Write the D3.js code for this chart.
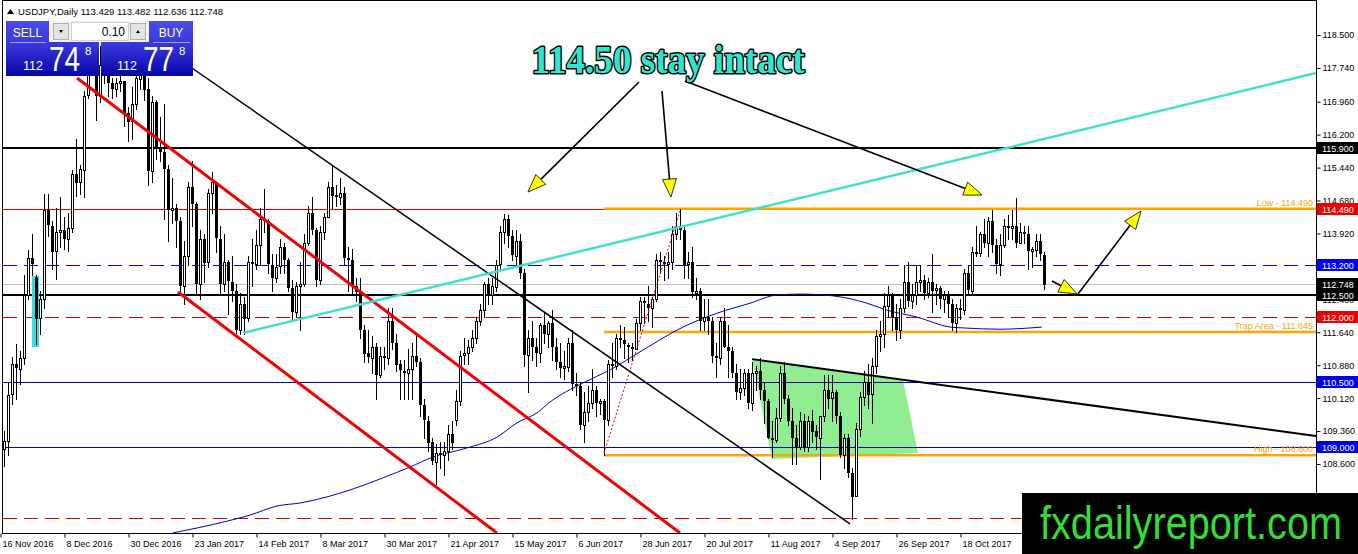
<!DOCTYPE html>
<html><head><meta charset="utf-8">
<script src="https://cdn.jsdelivr.net/npm/d3@7/dist/d3.min.js"></script>
<style>
html,body{margin:0;padding:0;background:#fff;overflow:hidden}
svg{display:block}
</style></head><body>
<svg id="c" width="1358" height="554"></svg>
<script>
// ---------- DATA (USDJPY daily, one bar per weekday from 16 Nov 2016) ----------
const open = [108.95,109.13,110.20,110.90,110.80,111.05,112.50,113.35,112.90,111.95,112.40,114.45,114.10,113.50,113.95,114.00,113.80,114.05,115.30,115.10,115.40,117.10,118.10,117.90,117.10,117.80,117.60,117.40,117.25,117.40,117.45,116.70,116.50,116.90,117.50,117.75,117.25,115.35,116.95,115.90,115.80,115.40,114.45,114.50,114.20,112.70,113.40,115.00,114.60,112.75,113.80,113.25,114.85,115.10,113.80,112.75,113.25,112.80,112.60,111.70,112.30,111.95,113.25,113.20,113.65,114.25,114.20,113.20,112.90,113.15,113.60,113.30,112.65,112.10,112.70,112.75,113.70,114.40,114.00,112.85,113.95,114.30,115.00,114.80,114.75,114.85,113.35,113.30,112.70,112.55,111.70,111.15,111.05,111.30,110.65,111.10,111.05,111.90,111.40,110.90,110.75,110.70,110.80,111.10,110.95,109.95,109.60,109.10,108.65,108.85,108.80,108.90,109.30,109.60,110.05,111.10,111.15,111.30,111.50,111.90,112.15,112.75,112.50,112.70,113.20,113.95,114.25,113.85,113.40,113.75,113.00,111.10,111.50,111.30,111.15,111.80,111.60,111.85,111.30,110.95,110.80,110.85,111.40,110.45,110.40,109.50,109.80,110.00,110.30,110.00,110.05,109.60,110.90,110.85,111.50,111.45,111.35,111.30,111.25,111.85,112.35,112.30,112.20,112.40,113.30,113.25,113.20,113.25,113.90,114.05,114.00,113.20,113.25,112.55,112.60,111.90,112.00,111.90,111.10,111.05,111.90,111.30,111.20,110.70,110.25,110.35,110.70,110.00,110.70,110.75,110.30,110.05,109.20,109.15,109.65,110.70,110.10,109.60,109.20,109.00,109.60,109.00,109.60,109.35,109.20,109.70,110.30,110.10,110.25,109.70,108.80,109.20,108.40,107.85,109.40,110.15,110.50,110.20,110.85,111.55,111.60,112.25,112.50,112.00,111.70,112.20,112.80,112.35,112.50,112.80,112.85,112.55,112.80,112.60,112.65,112.40,112.50,112.30,111.85,112.20,112.15,113.00,112.60,113.50,113.45,113.90,113.70,114.20,113.65,113.20,113.65,114.10,114.05,114.10,113.70,113.95,113.90,113.50,113.55,113.75,113.429];
const high = [109.35,110.48,111.06,111.36,111.20,112.96,113.53,113.90,112.95,112.60,114.82,114.83,114.20,114.50,114.76,114.30,114.40,115.38,116.11,115.50,117.20,118.66,118.40,117.95,118.25,118.15,117.70,117.50,117.50,117.80,117.45,116.85,117.30,117.60,118.60,118.00,117.50,117.10,117.00,116.60,116.90,115.50,115.20,114.60,114.30,113.75,115.10,115.60,114.65,114.00,113.90,114.95,115.35,115.10,114.10,113.90,113.30,113.40,112.75,112.55,112.45,113.40,113.80,114.00,114.50,114.95,114.25,113.45,113.45,113.80,113.70,113.35,112.85,112.80,113.25,113.90,114.55,114.75,114.05,114.10,114.40,115.10,115.50,115.05,115.20,115.00,113.60,113.55,112.90,112.90,111.80,111.70,111.55,111.40,111.30,111.30,112.20,112.20,111.60,111.00,111.00,111.25,111.40,111.60,111.05,110.10,109.70,109.20,109.05,109.10,109.10,109.50,109.60,110.30,111.20,111.50,111.45,111.70,112.00,112.30,112.80,112.90,112.90,113.30,114.10,114.37,114.35,114.00,114.00,113.90,113.10,111.70,111.90,111.50,111.85,112.10,111.90,112.15,111.50,111.40,111.20,111.50,111.70,110.70,110.50,110.25,110.40,110.80,110.40,110.10,110.10,111.00,111.40,111.60,111.80,111.75,111.40,111.40,111.95,112.45,112.45,112.70,112.45,113.45,113.50,113.40,113.50,114.10,114.40,114.49,114.10,113.50,113.60,112.90,112.65,112.40,112.40,112.00,111.40,112.00,112.20,111.80,111.30,110.90,110.80,110.80,110.80,110.95,110.85,111.05,110.50,110.10,109.60,109.90,110.85,110.95,110.20,109.90,109.50,109.80,109.75,109.70,109.85,109.50,109.70,110.65,110.65,110.65,110.30,109.80,109.30,109.30,108.50,109.55,110.25,110.75,110.90,111.05,111.70,111.90,112.55,112.70,112.55,112.30,112.40,113.20,113.25,112.75,113.20,113.20,112.95,112.90,113.45,112.75,112.70,112.60,112.60,112.40,112.30,112.40,113.10,113.20,113.60,114.10,113.95,114.25,114.30,114.45,113.80,113.90,114.25,114.35,114.45,114.73,114.15,114.10,114.10,113.60,113.90,113.90,113.482];
const low = [108.55,108.80,109.98,110.10,110.45,110.90,112.40,112.88,111.35,111.60,112.20,113.85,113.11,112.87,113.60,113.55,113.52,113.96,114.78,114.84,114.75,117.05,117.70,116.55,116.95,117.40,117.10,117.05,117.10,117.20,116.40,116.05,116.10,116.80,117.25,117.00,115.05,115.10,115.65,115.60,114.25,113.75,114.15,113.60,112.57,112.30,113.20,114.10,112.52,112.40,112.80,113.15,114.40,113.50,112.55,112.60,112.05,112.35,111.60,111.60,111.60,111.90,112.70,113.10,113.20,113.95,113.00,112.60,112.80,113.00,113.00,112.60,111.95,112.00,111.70,112.70,113.65,113.90,112.70,112.75,113.80,114.30,114.50,114.55,114.60,113.20,112.60,112.55,112.35,111.50,110.95,110.95,110.70,110.10,110.60,110.80,110.90,111.25,110.75,110.10,110.10,110.10,110.10,110.85,109.70,109.20,108.90,108.60,108.13,108.50,108.35,108.70,108.95,109.50,109.95,110.90,110.90,111.20,111.40,111.80,112.00,112.30,112.30,112.60,113.10,113.70,113.60,113.30,113.20,112.90,110.85,110.25,111.00,110.85,110.95,111.40,111.30,111.00,110.80,110.60,110.55,110.75,110.30,110.20,109.40,109.10,109.60,109.90,109.70,109.75,108.80,109.50,110.60,110.80,111.30,111.05,110.95,111.00,111.25,111.70,111.85,111.90,111.75,112.35,113.00,112.85,112.90,113.10,113.80,113.80,112.90,112.90,112.45,112.40,111.70,111.70,111.60,110.95,110.60,110.90,111.30,110.60,110.60,110.10,110.10,110.20,109.90,109.85,110.30,110.10,109.55,109.20,108.75,109.10,109.60,110.00,109.50,108.60,108.60,108.95,108.90,108.90,109.10,108.95,108.25,109.60,109.90,109.60,109.55,108.75,108.50,108.30,107.32,107.85,109.25,109.95,109.90,109.55,110.70,111.20,111.30,112.00,111.70,111.45,111.50,112.10,112.25,112.20,112.30,112.60,112.40,112.45,112.10,112.30,112.20,112.10,112.00,111.70,111.65,111.95,112.05,112.55,112.50,113.40,113.40,113.60,113.40,113.50,113.00,112.95,113.60,113.80,113.80,113.60,113.70,113.70,113.10,113.15,113.40,113.30,112.636];
const close = [109.13,110.20,110.90,110.80,111.05,112.50,113.35,113.20,111.95,112.40,114.45,114.10,113.50,113.95,114.00,113.80,114.05,115.30,115.10,115.40,117.10,118.10,117.90,117.10,117.80,117.60,117.40,117.25,117.40,117.45,116.70,116.50,116.90,117.50,117.75,117.25,115.35,116.95,115.90,115.80,115.40,114.45,114.50,114.20,112.70,113.40,115.00,114.60,112.75,113.80,113.25,114.85,115.10,113.80,112.75,113.25,112.80,112.60,111.70,112.30,111.95,113.25,113.20,113.65,114.25,114.20,113.20,112.90,113.15,113.60,113.30,112.65,112.10,112.70,112.75,113.70,114.40,114.00,112.85,113.95,114.30,115.00,114.80,114.75,114.85,113.35,113.30,112.70,112.55,111.70,111.15,111.05,111.30,110.65,111.10,111.05,111.90,111.40,110.90,110.75,110.70,110.80,111.10,110.95,109.95,109.60,109.10,108.65,108.85,108.80,108.90,109.30,109.10,110.05,111.10,111.15,111.30,111.50,111.90,112.15,112.75,112.50,112.70,113.20,113.95,114.25,113.85,113.40,113.75,113.00,111.10,111.50,111.30,111.15,111.80,111.60,111.85,111.30,110.95,110.80,110.85,111.40,110.45,110.40,109.50,109.80,110.00,110.30,110.00,110.05,109.60,110.90,110.85,111.50,111.45,111.35,111.30,111.25,111.85,112.35,112.30,112.20,112.40,113.30,113.25,113.20,113.25,113.90,114.05,114.00,113.20,113.25,112.55,112.60,111.90,112.00,111.90,111.10,111.05,111.90,111.30,111.20,110.70,110.25,110.35,110.70,110.00,110.70,110.75,110.30,110.05,109.20,109.15,109.65,110.70,110.10,109.60,109.20,109.00,109.60,109.00,109.60,109.35,109.20,109.70,110.30,110.10,110.25,109.70,108.80,109.20,108.40,107.85,109.40,110.15,110.50,110.20,110.85,111.55,111.60,112.25,112.50,112.00,111.70,112.20,112.80,112.35,112.50,112.80,112.85,112.55,112.80,112.60,112.65,112.40,112.50,112.30,111.85,112.20,112.15,113.00,112.60,113.50,113.45,113.90,113.70,114.20,113.65,113.20,113.65,114.10,114.05,114.10,113.70,113.95,113.90,113.50,113.55,113.75,113.45,112.748];

// moving average: bar index / value
const maIndex = [42.25,55.75,61.5,68.25,74,80.75,86.5,94.75,101.5,107.25,115.75,123.25,128.25,133.25,136.5,144.75,151.5,159.75,169.75,178.25,186.5,193.25,199,207.25,215.75,220.75,228.25,236.5,239.75,249,259.5];
const maValue = [107.01,107.28,107.42,107.63,107.70,107.84,108.00,108.28,108.53,108.76,108.97,109.22,109.55,109.78,110.03,110.47,110.77,111.23,111.76,112.08,112.31,112.50,112.52,112.48,112.31,112.15,111.99,111.76,111.74,111.71,111.76];

// time axis labels
const timeIndex = [0,16,32,48,64,80,96,112,128,144,160,176,192,208,224,240];
const timeLabels = ["16 Nov 2016","8 Dec 2016","30 Dec 2016","23 Jan 2017","14 Feb 2017","8 Mar 2017","30 Mar 2017","21 Apr 2017","15 May 2017","6 Jun 2017","28 Jun 2017","20 Jul 2017","11 Aug 2017","4 Sep 2017","26 Sep 2017","18 Oct 2017"];

// price axis ticks (those visible in the reference)
const priceTicks = [118.5,117.74,116.96,116.2,115.44,114.68,113.92,112.4,111.64,110.88,110.12,109.36,108.6,107.84];

// horizontal levels
const levelPrices = [115.9,114.49,113.2,112.748,112.5,112.0,110.5,109.0,107.35];
const tagPrices = [115.9,114.49,113.2,112.748,112.5,112.0,110.5,109.0];
const zonePrices = [114.49,111.645,108.8];
const zoneLabels = ["Low - 114.490","Trap Area - 111.645","High - 108.800"];
const zoneStart = 150;

// trend lines: [barIndex, price] end points
const redUpper = [[18.25,117.508],[169,107.007]];
const redLower = [[43.5,112.569],[123.25,107.007]];
const blackFall = [[36.5,118.408],[211.5,107.215]];
const cyanRise = [[59.75,111.623],[328,117.623]];
const blackWedge = [[187,111.02],[328,109.245]];
const redDotted = [[150,108.853],[169,114.438]];
const greenZone = [[187,111.02],[224.75,110.538],[228.5,108.853],[192,108.715]];
const cyanBox = [8,112.94,111.30];
const arrows = [
  [[158.75,117.415],[131,114.877]],
  [[164.5,117.208],[166.75,114.761]],
  [[170.25,117.438],[244.5,114.807]],
  [[262,112.823],[268.25,112.523]],
  [[268.5,112.523],[284.25,114.438]]
];
const titleText = "114.50 stay intact";
const titleAnchor = [166,117.623];
const header = "USDJPY,Daily 113.429 113.482 112.636 112.748";
const bidParts = ["112","74","8"], askParts = ["112","77","8"], lotSize = "0.10";

// ---------- DRAW ----------
const svg = d3.select('#c');
const FONT = "'Liberation Sans', Arial, sans-serif";
const x = d3.scaleLinear().domain([0,260]).range([4,1044]);
const y = d3.scaleLinear().domain([107.007,119.285]).range([533,1]);
const L = 3, R = 1316, T = 1, B = 533;

const defs = svg.append('defs');
defs.append('clipPath').attr('id','plot').append('rect').attr('x',L).attr('y',T).attr('width',R-L).attr('height',B-T);
const gr = defs.append('linearGradient').attr('id','blueG').attr('x1',0).attr('y1',0).attr('x2',0).attr('y2',1);
gr.append('stop').attr('offset','0%').attr('stop-color','#3a3ae0');
gr.append('stop').attr('offset','100%').attr('stop-color','#0606a6');
const gr2 = defs.append('linearGradient').attr('id','btnG').attr('x1',0).attr('y1',0).attr('x2',0).attr('y2',1);
gr2.append('stop').attr('offset','0%').attr('stop-color','#4a4ae6');
gr2.append('stop').attr('offset','100%').attr('stop-color','#2222c8');

svg.append('rect').attr('width',1358).attr('height',554).attr('fill','#fff');
const P = svg.append('g').attr('clip-path','url(#plot)');

// green zone
P.append('polygon').attr('points',greenZone.map(d=>[x(d[0]),y(d[1])].join(',')).join(' '))
  .attr('fill','#90ee90');

// horizontal levels
const levelStyle = [
  {c:'#000',w:2},{c:'#e00000',w:1},{c:'#0000e0',w:1,d:'14,7'},{c:'#c0c0c0',w:1},
  {c:'#000',w:2},{c:'#c80000',w:1,d:'14,7'},{c:'#0000d0',w:1},{c:'#0000d0',w:1},{c:'#c80000',w:1,d:'14,7'}];
P.selectAll('line.lvl').data(levelPrices).join('line').attr('class','lvl')
  .attr('x1',L).attr('x2',R)
  .attr('y1',(d,i)=>Math.round(y(d))+(levelStyle[i].w===1?0.5:0))
  .attr('y2',(d,i)=>Math.round(y(d))+(levelStyle[i].w===1?0.5:0))
  .attr('stroke',(d,i)=>levelStyle[i].c).attr('stroke-width',(d,i)=>levelStyle[i].w)
  .attr('stroke-dasharray',(d,i)=>levelStyle[i].d||null);

// orange zones
P.selectAll('line.zone').data(zonePrices).join('line').attr('class','zone')
  .attr('x1',x(zoneStart)).attr('x2',R).attr('y1',d=>y(d)).attr('y2',d=>y(d))
  .attr('stroke','#ffa500').attr('stroke-width',2.5);
P.selectAll('text.zone').data(zonePrices).join('text').attr('class','zone')
  .attr('x',R-3).attr('y',d=>y(d)-3).attr('text-anchor','end')
  .attr('font-family',FONT).attr('font-size',9).attr('fill','#ffa500')
  .text((d,i)=>zoneLabels[i]);

// moving average
P.append('path').datum(maIndex.map((d,i)=>[d,maValue[i]]))
  .attr('d',d3.line().x(d=>x(d[0])).y(d=>y(d[1])).curve(d3.curveMonotoneX))
  .attr('fill','none').attr('stroke','#0000c8').attr('stroke-width',1);

// candles
const idx = d3.range(open.length);
const gC = P.append('g').attr('shape-rendering','crispEdges');
gC.selectAll('line').data(idx).join('line')
  .attr('x1',i=>Math.round(x(i))+0.5).attr('x2',i=>Math.round(x(i))+0.5)
  .attr('y1',i=>Math.round(y(high[i]))).attr('y2',i=>Math.round(y(low[i]))+1)
  .attr('stroke','#000').attr('stroke-width',1);
gC.selectAll('rect').data(idx).join('rect')
  .attr('x',i=>close[i]>=open[i]?Math.round(x(i))-0.5:Math.round(x(i))-1)
  .attr('width',i=>close[i]>=open[i]?2:3)
  .attr('y',i=>Math.round(y(Math.max(open[i],close[i])))+(close[i]>=open[i]?0.5:0))
  .attr('height',i=>Math.max(1,Math.round(Math.abs(y(open[i])-y(close[i])))))
  .attr('fill',i=>close[i]>=open[i]?'#fff':'#000')
  .attr('stroke',i=>close[i]>=open[i]?'#000':'none').attr('stroke-width',1);

// cyan box
P.append('rect').attr('x',x(cyanBox[0])-4).attr('width',7)
  .attr('y',y(cyanBox[1])).attr('height',y(cyanBox[2])-y(cyanBox[1]))
  .attr('fill','#30e0e0');
const cb = cyanBox[0];
P.append('line').attr('x1',Math.round(x(cb))+0.5).attr('x2',Math.round(x(cb))+0.5)
  .attr('y1',y(high[cb])).attr('y2',y(low[cb])).attr('stroke','#000');
P.append('rect').attr('x',Math.round(x(cb))-1).attr('width',3)
  .attr('y',y(open[cb])).attr('height',y(close[cb])-y(open[cb])).attr('fill','#000');

// trend lines
function seg(a,color,w,dash){
  P.append('line').attr('x1',x(a[0][0])).attr('y1',y(a[0][1])).attr('x2',x(a[1][0])).attr('y2',y(a[1][1]))
   .attr('stroke',color).attr('stroke-width',w).attr('stroke-dasharray',dash||null);
}
seg(blackFall,'#000',1.5);
seg(redUpper,'#f00000',3);
seg(redLower,'#f00000',3);
seg(cyanRise,'#40e0d0',2.5);
seg(blackWedge,'#000',2);
seg(redDotted,'#e00000',1,'2,2');

// arrows
arrows.forEach(a=>{
  const x1=x(a[0][0]),y1=y(a[0][1]),x2=x(a[1][0]),y2=y(a[1][1]);
  const ang=Math.atan2(y2-y1,x2-x1), len=18, hw=7;
  const bx=x2-len*Math.cos(ang), by=y2-len*Math.sin(ang);
  const px=-Math.sin(ang)*hw, py=Math.cos(ang)*hw;
  P.append('line').attr('x1',x1).attr('y1',y1).attr('x2',bx).attr('y2',by).attr('stroke','#000').attr('stroke-width',1.6);
  P.append('polygon').attr('points',[[x2,y2],[bx+px,by+py],[bx-px,by-py]].map(p=>p.join(',')).join(' '))
   .attr('fill','#ffff00').attr('stroke','#000').attr('stroke-width',0.8);
});

// title
P.append('text').attr('x',x(titleAnchor[0])).attr('y',y(titleAnchor[1]))
  .attr('text-anchor','middle').attr('font-family',"'Liberation Serif','Times New Roman',serif")
  .attr('font-weight','bold').attr('font-size',41)
  .attr('textLength',273).attr('lengthAdjust','spacingAndGlyphs')
  .attr('fill','#2ee6cf').attr('stroke','#000').attr('stroke-width',3)
  .attr('paint-order','stroke').attr('stroke-linejoin','round')
  .text(titleText);

// frame
svg.append('line').attr('x1',2.5).attr('x2',2.5).attr('y1',0).attr('y2',B).attr('stroke','#000');
svg.append('line').attr('x1',2).attr('x2',R).attr('y1',0.5).attr('y2',0.5).attr('stroke','#000');
svg.append('line').attr('x1',R+0.5).attr('x2',R+0.5).attr('y1',0).attr('y2',B+1).attr('stroke','#000');
svg.append('line').attr('x1',2).attr('x2',R+1).attr('y1',B+0.5).attr('y2',B+0.5).attr('stroke','#000');

// price axis
const yAx = svg.append('g').attr('transform',`translate(${R+0.5},0)`)
  .call(d3.axisRight(y).tickValues(priceTicks).tickFormat(d3.format('.3f')).tickSize(4).tickPadding(2));
yAx.select('.domain').remove();
yAx.selectAll('text').attr('font-family',FONT).attr('font-size',9).attr('fill','#000');
yAx.selectAll('line').attr('stroke','#000');

// price tags
const tagColor = ['#000','#ee0000','#0000ee','#000','#000','#ee0000','#0000ee','#0000ee'];
const tags = svg.append('g');
tags.selectAll('rect').data(tagPrices).join('rect')
  .attr('x',R+1).attr('width',1358-R-1).attr('y',d=>Math.round(y(d))-6).attr('height',12)
  .attr('fill',(d,i)=>tagColor[i]);
tags.selectAll('text').data(tagPrices).join('text')
  .attr('x',R+6).attr('y',d=>Math.round(y(d))+3.5)
  .attr('font-family',FONT).attr('font-size',9).attr('fill','#fff')
  .text(d=>d3.format('.3f')(d));

// time axis
const xAx = svg.append('g').attr('transform',`translate(-3.5,${B+0.5})`)
  .call(d3.axisBottom(x).tickValues(timeIndex).tickFormat((d,k)=>timeLabels[k]).tickSize(4).tickPadding(3));
xAx.select('.domain').remove();
xAx.selectAll('text').attr('font-family',FONT).attr('font-size',9).attr('fill','#000')
  .attr('text-anchor','start').attr('x',1.5);
xAx.selectAll('line').attr('stroke','#000');

// header
svg.append('path').attr('d','M7,14 L10.5,9 L14,14 Z').attr('fill','#000');
svg.append('text').attr('x',18).attr('y',15).attr('font-family',FONT).attr('font-size',9.5).attr('fill','#000').text(header);

// trade panel
const tp = svg.append('g');
tp.append('rect').attr('x',6).attr('y',21).attr('width',43).attr('height',55).attr('fill','url(#btnG)');
tp.append('rect').attr('x',6).attr('y',42).attr('width',93).attr('height',34).attr('fill','url(#blueG)');
tp.append('rect').attr('x',149).attr('y',21).attr('width',44).attr('height',55).attr('fill','url(#btnG)');
tp.append('rect').attr('x',101).attr('y',42).attr('width',92).attr('height',34).attr('fill','url(#blueG)');
tp.append('rect').attr('x',49).attr('y',21).attr('width',100).attr('height',21).attr('fill','#f4f4f4');
tp.append('rect').attr('x',53.5).attr('y',23.5).attr('width',15).attr('height',16).attr('fill','#e4e4e4').attr('stroke','#b0b0b0');
tp.append('rect').attr('x',71.5).attr('y',22.5).attr('width',57).attr('height',18).attr('fill','#fff').attr('stroke','#d0d0d0');
tp.append('rect').attr('x',130.5).attr('y',23.5).attr('width',15).attr('height',16).attr('fill','#e4e4e4').attr('stroke','#b0b0b0');
tp.append('path').attr('d','M59,30 L63,30 L61,33 Z').attr('fill','#000');
tp.append('path').attr('d','M136,33 L140,33 L138,30 Z').attr('fill','#000');
tp.append('text').attr('x',125).attr('y',36).attr('text-anchor','end').attr('font-family',FONT).attr('font-size',12).attr('fill','#000').text(lotSize);
tp.append('line').attr('x1',10).attr('x2',46).attr('y1',42.5).attr('y2',42.5).attr('stroke','#9a9af0');
tp.append('line').attr('x1',153).attr('x2',190).attr('y1',42.5).attr('y2',42.5).attr('stroke','#9a9af0');
tp.append('text').attr('x',27.5).attr('y',36.5).attr('text-anchor','middle').attr('font-family',FONT).attr('font-size',12).attr('fill','#fff').text('SELL');
tp.append('text').attr('x',171).attr('y',36.5).attr('text-anchor','middle').attr('font-family',FONT).attr('font-size',12).attr('fill','#fff').text('BUY');
function priceBox(parts,x0){
  tp.append('text').attr('x',x0).attr('y',70).attr('font-family',FONT).attr('font-size',12.5).attr('fill','#fff').text(parts[0]);
  tp.append('text').attr('x',x0+26).attr('y',71).attr('font-family',FONT).attr('font-size',35)
    .attr('textLength',31).attr('lengthAdjust','spacingAndGlyphs').attr('fill','#fff').text(parts[1]);
  tp.append('text').attr('x',x0+62).attr('y',55).attr('font-family',FONT).attr('font-size',11.5).attr('fill','#fff').text(parts[2]);
}
priceBox(bidParts,23);
priceBox(askParts,117);

// watermark
svg.append('rect').attr('x',1022).attr('y',493).attr('width',336).attr('height',61).attr('fill','#000');
svg.append('text').attr('x',1040).attr('y',539)
  .attr('font-family',"'Liberation Sans Narrow','Liberation Sans',Arial,sans-serif").attr('font-size',46)
  .attr('textLength',302).attr('lengthAdjust','spacingAndGlyphs')
  .attr('fill','#33dd33').text('fxdailyreport.com');
</script>
</body></html>
